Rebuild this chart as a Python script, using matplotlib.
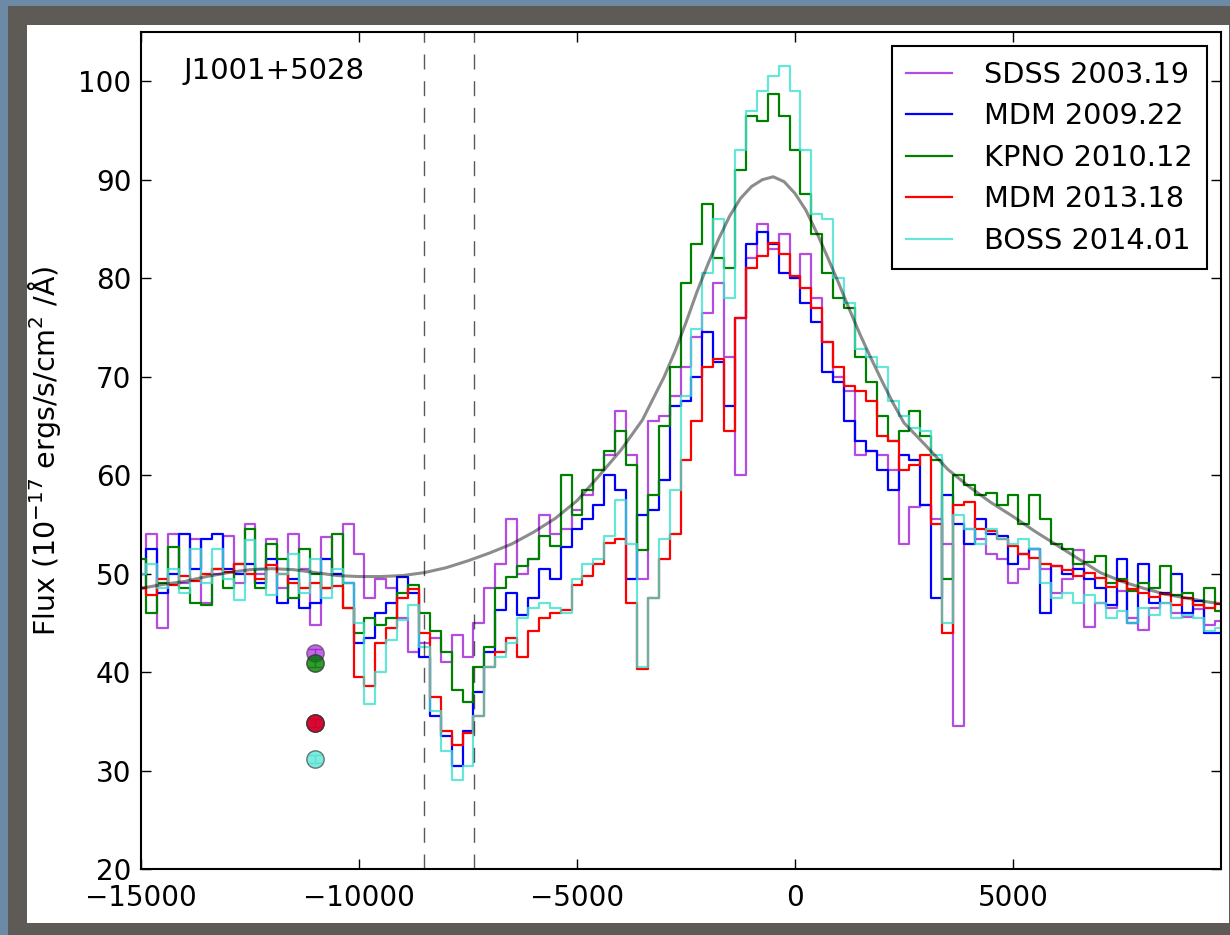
import numpy as np
import matplotlib
matplotlib.use('Agg')
import matplotlib.pyplot as plt
from matplotlib.patches import Rectangle

# velocity grid of the binned spectra (km/s)
vel = np.arange(-15000, 9751, 250)

sdss_2003 = [50.0, 54.0, 44.5, 54.0, 49.0, 53.5, 47.0, 50.0, 53.8, 49.0,
             55.0, 50.0, 53.5, 48.5, 54.0, 50.5, 44.8, 53.7, 50.0, 55.0,
             52.0, 47.5, 49.5, 48.5, 45.5, 42.0, 43.0, 43.5, 41.0, 43.8,
             41.5, 45.0, 48.5, 51.0, 55.5, 50.0, 51.5, 56.0, 54.0, 54.5,
             56.5, 58.0, 60.5, 62.0, 66.5, 62.0, 49.5, 65.5, 66.0, 68.0,
             71.0, 74.0, 76.5, 79.5, 72.0, 60.0, 82.0, 85.5, 83.0, 84.5,
             80.0, 82.5, 78.0, 73.5, 70.0, 68.5, 62.0, 62.5, 62.0, 60.5,
             53.0, 56.8, 57.0, 55.5, 53.0, 34.5, 54.5, 53.5, 52.0, 51.5,
             49.0, 50.5, 52.5, 50.5, 48.0, 49.5, 52.4, 44.6, 47.0, 46.5,
             48.2, 45.5, 44.3, 46.5, 47.0, 46.0, 45.6, 46.4, 44.8, 45.2]

mdm_2009 = [48.5, 52.5, 48.0, 50.0, 54.0, 50.5, 53.5, 54.0, 50.5, 50.0,
            51.0, 49.0, 51.5, 47.0, 49.5, 46.5, 47.0, 51.5, 50.0, 49.0,
            43.0, 43.5, 46.0, 47.0, 49.7, 48.0, 41.5, 35.5, 33.5, 30.5,
            34.0, 38.0, 42.0, 46.3, 48.0, 45.8, 47.5, 50.5, 49.5, 52.7,
            54.5, 55.5, 57.0, 60.0, 58.5, 49.5, 56.0, 56.5, 59.5, 67.0,
            67.5, 70.0, 74.5, 71.5, 67.0, 76.0, 83.5, 84.7, 83.5, 80.5,
            80.0, 77.5, 75.5, 70.5, 69.5, 65.5, 63.5, 62.5, 60.5, 58.5,
            62.0, 61.5, 57.0, 47.5, 58.0, 55.0, 53.0, 55.5, 54.0, 53.8,
            51.0, 52.0, 52.5, 46.0, 50.8, 50.0, 50.5, 49.5, 48.5, 46.8,
            51.5, 45.0, 51.0, 47.0, 48.0, 50.0, 46.0, 47.2, 44.0, 44.0]

kpno_2010 = [51.5, 46.0, 49.0, 52.7, 48.5, 47.0, 46.8, 50.5, 48.5, 51.0,
             54.5, 48.5, 53.0, 51.5, 47.5, 52.5, 50.0, 48.5, 54.0, 46.5,
             44.0, 45.5, 44.8, 45.5, 48.0, 48.8, 46.0, 44.2, 42.0, 38.2,
             37.0, 40.5, 42.5, 48.5, 49.7, 50.8, 51.5, 53.8, 52.8, 60.0,
             56.0, 58.5, 60.5, 62.5, 64.5, 61.0, 52.4, 58.0, 65.0, 71.0,
             79.5, 83.5, 87.5, 82.0, 81.0, 91.0, 96.5, 96.0, 98.7, 96.5,
             93.0, 88.5, 84.5, 80.5, 78.0, 77.0, 72.0, 69.5, 66.0, 63.5,
             64.5, 66.5, 64.0, 61.5, 49.5, 60.0, 59.0, 58.0, 58.2, 57.0,
             58.0, 55.0, 58.0, 55.5, 53.0, 52.5, 51.0, 51.2, 51.8, 49.0,
             49.5, 48.2, 49.0, 48.5, 50.8, 47.8, 48.0, 46.8, 48.5, 46.2]

mdm_2013 = [48.5, 47.8, 49.5, 48.8, 49.8, 49.2, 50.0, 50.5, 50.2, 51.0,
            50.0, 49.5, 50.9, 50.0, 49.0, 48.5, 49.0, 48.5, 48.7, 46.5,
            39.5, 38.6, 43.0, 44.5, 47.5, 48.4, 44.0, 37.5, 34.0, 32.6,
            33.8, 35.5, 40.5, 42.0, 43.5, 41.5, 44.2, 45.5, 46.0, 46.3,
            48.8, 49.8, 51.0, 53.1, 53.5, 47.0, 40.3, 47.5, 51.5, 54.0,
            61.5, 65.5, 71.0, 71.8, 64.5, 76.0, 81.0, 82.3, 83.6, 82.5,
            80.2, 79.0, 77.0, 73.5, 71.0, 69.0, 68.5, 67.5, 64.0, 63.5,
            60.5, 61.0, 62.0, 55.0, 44.0, 57.0, 57.3, 54.5, 54.3, 53.5,
            52.8, 52.0, 51.6, 51.0, 50.8, 50.4, 49.8, 50.1, 49.6, 48.6,
            49.2, 48.4, 48.0, 47.6, 47.9, 46.8, 47.5, 46.8, 46.5, 46.9]

boss_2014 = [50.0, 51.0, 48.5, 50.5, 48.0, 52.5, 49.0, 52.5, 49.5, 47.3,
             53.4, 50.5, 47.8, 50.0, 52.0, 48.0, 51.5, 47.5, 50.5, 49.0,
             45.0, 36.8, 40.0, 43.3, 45.3, 46.8, 42.5, 36.0, 32.0, 29.0,
             30.5, 35.5, 40.5, 41.5, 43.0, 45.5, 46.5, 47.0, 46.5, 46.0,
             49.5, 51.0, 51.5, 53.8, 57.5, 53.0, 40.5, 47.5, 53.5, 58.5,
             68.0, 74.8, 80.5, 86.0, 78.0, 93.0, 97.0, 99.0, 100.5, 101.5,
             99.0, 93.0, 86.5, 86.0, 80.0, 77.5, 72.8, 72.0, 71.0, 67.5,
             66.0, 64.8, 64.5, 62.0, 45.0, 56.0, 54.5, 53.0, 54.5, 53.5,
             53.0, 53.5, 52.5, 49.0, 47.5, 48.0, 47.0, 47.8, 47.0, 45.5,
             46.2, 45.0, 46.5, 45.8, 47.0, 45.5, 45.8, 45.5, 44.2, 44.5]

# model fit (gray curve), finer sampling around the line core
fit_vel = np.concatenate([np.arange(-15000, -3499, 500),
                          np.arange(-3000, 2501, 250),
                          np.arange(3000, 10001, 500)])
fit_flux = [48.5, 48.9, 49.2, 49.7, 50.1, 50.4, 50.5, 50.4, 50.1, 49.8,
            49.7, 49.7, 49.8, 50.1, 50.6, 51.3, 52.1, 53.0, 54.2, 55.6,
            57.4, 59.9, 62.5, 65.6,
            70.0, 72.6, 75.5, 78.6, 81.4, 84.0, 86.3, 88.1, 89.3, 90.0,
            90.3, 89.8, 88.6, 86.9, 84.6, 82.1, 79.5, 76.8, 74.2, 71.8,
            69.5, 67.3, 65.3,
            63.0, 60.6, 58.8, 57.2, 55.8, 54.3, 52.9, 51.5, 50.1, 49.2,
            48.5, 47.9, 47.5, 47.1, 46.8]

# absorption-trough flux points
pt_vel = [-11000, -11000, -11000, -11000, -11000]
pt_flux = [41.9, 34.8, 40.9, 34.8, 31.2]

labels = ['SDSS 2003.19', 'MDM 2009.22', 'KPNO 2010.12', 'MDM 2013.18', 'BOSS 2014.01']
colors = ['darkviolet', 'blue', 'green', 'red', 'turquoise']
alphas = [0.7, 1.0, 1.0, 1.0, 0.8]
spectra = [sdss_2003, mdm_2009, kpno_2010, mdm_2013, boss_2014]

fig = plt.figure(figsize=(12.3, 9.35), dpi=100)
fig.patch.set_facecolor('#6c8aa6')
fig.add_artist(Rectangle((8 / 1230, 0), 1, 929 / 935, transform=fig.transFigure,
                         fc='#5e5a55', ec='none', zorder=-10))
fig.add_artist(Rectangle((27 / 1230, 12 / 935), 1202 / 1230, 898 / 935,
                         transform=fig.transFigure, fc='white', ec='none', zorder=-9))

ax = fig.add_axes([141 / 1230, 66 / 935, 1080 / 1230, 837 / 935])

for flux, lab, c, a in zip(spectra, labels, colors, alphas):
    ax.plot(vel, flux, drawstyle='steps-mid', color=c, alpha=a, lw=1.6, label=lab)

ax.plot(fit_vel, fit_flux, color='k', alpha=0.45, lw=2.2)

for v in [-8500, -7360]:
    ax.axvline(v, color='k', alpha=0.65, lw=1, dashes=(10.8, 8.4))

for x, y, c, a in zip(pt_vel, pt_flux, colors, alphas):
    ax.errorbar(x, y, yerr=0.4, fmt='o', color=c, ms=12.5, alpha=0.7 * a + 0.1,
                mec='#333333', capsize=5, elinewidth=1, zorder=5)

ax.text(0.039, 0.97, 'J1001+5028', transform=ax.transAxes, fontsize=21,
        ha='left', va='top')

ax.set_xlim(-15000, 9770)
ax.set_ylim(20, 105)
ax.set_xticks([-15000, -10000, -5000, 0, 5000])
ax.set_yticks(np.arange(20, 101, 10))
ax.tick_params(direction='in', length=7, width=1, top=True, right=True,
               labelsize=20)
ax.tick_params(axis='x', pad=11)
ax.tick_params(axis='y', pad=7)
for s in ax.spines.values():
    s.set_linewidth(1.5)

ax.set_ylabel(r'Flux (10$^{-17}$ ergs/s/cm$^2$ /$\mathrm{\AA}$)', fontsize=20.5)
ax.yaxis.set_label_coords(-0.072, 0.5)

leg = ax.legend(loc='upper right', fontsize=20.7, fancybox=False, framealpha=1,
                handlelength=1.6, handletextpad=1.1, labelspacing=0.47,
                borderpad=0.5)
leg.get_frame().set_edgecolor('black')
leg.get_frame().set_linewidth(1.5)

fig.savefig('out.png', dpi=100, facecolor=fig.get_facecolor())
